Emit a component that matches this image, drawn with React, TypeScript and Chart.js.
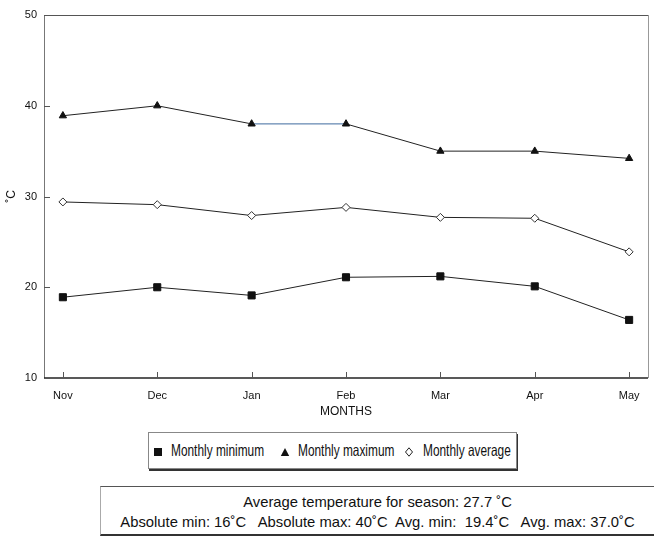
import React, { useEffect, useRef } from 'react';
import { Chart, registerables } from 'chart.js';

Chart.register(...registerables);

const months = ['Nov', 'Dec', 'Jan', 'Feb', 'Mar', 'Apr', 'May'];
const monthlyMin = [18.9, 20.0, 19.1, 21.1, 21.2, 20.1, 16.4];
const monthlyMax = [38.9, 40.0, 38.0, 38.0, 35.0, 35.0, 34.2];
const monthlyAvg = [29.4, 29.1, 27.9, 28.8, 27.7, 27.6, 23.9];
const yTickValues = [10, 20, 30, 40, 50];

const seriesNames = ['Monthly minimum', 'Monthly maximum', 'Monthly average'];
const statsLine1 = 'Average temperature for season: 27.7 ˚C';
const statsLine2 = 'Absolute min: 16˚C\u00a0\u00a0 Absolute max: 40˚C\u00a0 Avg. min:\u00a0 19.4˚C\u00a0\u00a0 Avg. max: 37.0˚C';

const SANS = '"Liberation Sans", Arial, Helvetica, sans-serif';

const framePlugin = {
  id: 'frame',
  beforeDatasetsDraw(chart: any) {
    const { ctx, chartArea } = chart;
    const { left, right, top, bottom } = chartArea;
    const xs = chart.scales.x;
    const ys = chart.scales.y;
    ctx.save();
    ctx.lineWidth = 1;
    ctx.strokeStyle = '#555';
    ctx.beginPath();
    ctx.moveTo(left, top + 0.5);
    ctx.lineTo(right, top + 0.5);
    ctx.stroke();
    ctx.strokeStyle = '#999';
    ctx.beginPath();
    ctx.moveTo(right + 0.5, top);
    ctx.lineTo(right + 0.5, bottom);
    ctx.stroke();
    ctx.strokeStyle = '#777';
    ctx.beginPath();
    ctx.moveTo(left + 0.5, top);
    ctx.lineTo(left + 0.5, bottom);
    ctx.stroke();
    ctx.strokeStyle = '#222';
    ctx.lineWidth = 1.5;
    ctx.beginPath();
    ctx.moveTo(left, bottom);
    ctx.lineTo(right, bottom);
    ctx.stroke();
    ctx.lineWidth = 1;
    ctx.strokeStyle = '#555';
    yTickValues.forEach((v) => {
      const y = Math.round(ys.getPixelForValue(v)) + 0.5;
      ctx.beginPath();
      ctx.moveTo(left, y);
      ctx.lineTo(left + 6, y);
      ctx.stroke();
    });
    months.forEach((_, i) => {
      const x = Math.round(xs.getPixelForValue(i)) + 0.5;
      ctx.beginPath();
      ctx.moveTo(x, bottom);
      ctx.lineTo(x, bottom - 6);
      ctx.stroke();
    });
    ctx.restore();
  },
};

function Marker({ kind }: { kind: string }) {
  if (kind === 'square') {
    return (
      <svg width="10" height="10" style={{ display: 'block' }}>
        <rect x="1" y="1" width="8" height="8" fill="#111" />
      </svg>
    );
  }
  if (kind === 'triangle') {
    return (
      <svg width="10" height="10" style={{ display: 'block' }}>
        <polygon points="5,1 9.2,9 0.8,9" fill="#111" />
      </svg>
    );
  }
  return (
    <svg width="10" height="10" style={{ display: 'block' }}>
      <polygon points="5,0.8 8.5,5 5,9.2 1.5,5" fill="#fff" stroke="#222" strokeWidth="1" />
    </svg>
  );
}

export default function App() {
  const canvasRef = useRef<HTMLCanvasElement | null>(null);

  useEffect(() => {
    if (!canvasRef.current) return;
    const toPts = (arr: number[]) => arr.map((v, i) => ({ x: i, y: v }));
    const chart = new Chart(canvasRef.current, {
      type: 'line',
      data: {
        datasets: [
          {
            label: seriesNames[0],
            data: toPts(monthlyMin),
            borderColor: '#222',
            backgroundColor: '#111',
            borderWidth: 1,
            pointStyle: 'rect',
            pointRadius: 5,
            pointBorderWidth: 1,
            pointBorderColor: '#111',
            tension: 0,
          },
          {
            label: seriesNames[1],
            data: toPts(monthlyMax),
            borderColor: '#222',
            backgroundColor: '#111',
            borderWidth: 1,
            pointStyle: 'triangle',
            pointRadius: 4.2,
            pointBorderWidth: 1,
            pointBorderColor: '#111',
            tension: 0,
            segment: {
              borderColor: (ctx: any) => (ctx.p0DataIndex === 2 ? '#3d6a9e' : '#222'),
            },
          },
          {
            label: seriesNames[2],
            data: toPts(monthlyAvg),
            borderColor: '#222',
            backgroundColor: '#fff',
            borderWidth: 1,
            pointStyle: 'rectRot',
            pointRadius: 4,
            pointBorderWidth: 1,
            pointBorderColor: '#333',
            tension: 0,
          },
        ],
      },
      options: {
        animation: false,
        responsive: false,
        maintainAspectRatio: false,
        layout: { padding: { top: 15, right: 2, left: 0, bottom: 0 } },
        plugins: {
          legend: { display: false },
          tooltip: { enabled: false },
        },
        scales: {
          x: {
            type: 'linear',
            min: -0.2,
            max: 6.2,
            afterBuildTicks: (axis: any) => {
              axis.ticks = months.map((_, i) => ({ value: i }));
            },
            afterFit: (axis: any) => {
              axis.height = 42;
            },
            grid: { display: false, drawTicks: false },
            border: { display: false },
            ticks: {
              color: '#111',
              padding: 11,
              maxRotation: 0,
              autoSkip: false,
              font: { family: SANS, size: 11 },
              callback: (v: any) => months[v] ?? '',
            },
            title: {
              display: true,
              text: 'MONTHS',
              color: '#111',
              font: { family: SANS, size: 12 },
              padding: { top: 0, bottom: 1 },
            },
          },
          y: {
            type: 'linear',
            min: 10,
            max: 50,
            afterBuildTicks: (axis: any) => {
              axis.ticks = yTickValues.map((v) => ({ value: v }));
            },
            afterFit: (axis: any) => {
              axis.width = 44;
            },
            grid: { display: false, drawTicks: false },
            border: { display: false },
            ticks: {
              color: '#111',
              padding: 7,
              font: { family: SANS, size: 11 },
            },
            title: {
              display: true,
              text: '˚C',
              color: '#111',
              font: { family: SANS, size: 12 },
              padding: { top: 4, bottom: 0 },
            },
          },
        },
      },
      plugins: [framePlugin],
    } as any);
    return () => chart.destroy();
  }, []);

  const markers = ['square', 'triangle', 'diamond'];
  const markerLefts = [4, 131, 255];
  const textLefts = [22, 149, 274];

  return (
    <div style={{ position: 'absolute', left: 0, top: 0, width: 654, height: 537, background: '#fff', overflow: 'hidden' }}>
      <canvas ref={canvasRef} width={654} height={420} style={{ display: 'block', position: 'absolute', left: 0, top: 0 }} />
      <div
        style={{
          position: 'absolute',
          left: 148,
          top: 432,
          width: 369,
          height: 37,
          border: '1px solid #888',
          boxShadow: '1px 2px 0 #333',
          fontFamily: SANS,
          fontSize: 16.5,
          color: '#111',
          boxSizing: 'border-box',
        }}
      >
        {seriesNames.map((name, i) => (
          <React.Fragment key={name}>
            <div style={{ position: 'absolute', left: markerLefts[i], top: 14 }}>
              <Marker kind={markers[i]} />
            </div>
            <span
              style={{
                position: 'absolute',
                left: textLefts[i],
                top: 8,
                lineHeight: '18px',
                whiteSpace: 'nowrap',
                transform: 'scaleX(0.72)',
                transformOrigin: 'left center',
              }}
            >
              {name}
            </span>
          </React.Fragment>
        ))}
      </div>
      <div
        style={{
          position: 'absolute',
          left: 100,
          top: 486,
          width: 554,
          height: 50,
          borderTop: '1px solid #555',
          borderLeft: '1px solid #aaa',
          borderBottom: '2px solid #333',
          boxSizing: 'border-box',
          fontFamily: SANS,
          fontSize: 14.8,
          color: '#111',
          textAlign: 'center',
          lineHeight: '20px',
          paddingTop: 5,
          whiteSpace: 'nowrap',
        }}
      >
        <div>{statsLine1}</div>
        <div>{statsLine2}</div>
      </div>
    </div>
  );
}
